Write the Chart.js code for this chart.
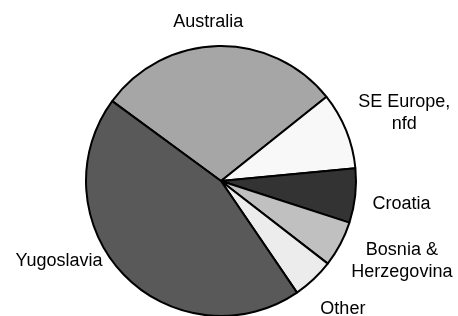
<!DOCTYPE html>
<html>
<head>
<meta charset="utf-8">
<script src="https://cdn.jsdelivr.net/npm/chart.js@4/dist/chart.umd.min.js"></script>
<style>
  html, body { margin: 0; padding: 0; background: #fff; overflow: hidden; }
</style>
</head>
<body>
<canvas id="pieChart" width="458" height="316"></canvas>
<script>
// chart data (share of people, %)
const categories = ['Australia', 'SE Europe, nfd', 'Croatia', 'Bosnia & Herzegovina', 'Other', 'Yugoslavia'];
const labelLines = [['Australia'], ['SE Europe,', 'nfd'], ['Croatia'], ['Bosnia &', 'Herzegovina'], ['Other'], ['Yugoslavia']];
const shares = [29.2, 9.2, 6.5, 5.5, 5.0, 44.6];
const sliceColors = ['#a6a6a6', '#f8f8f8', '#333333', '#c0c0c0', '#ececec', '#595959'];

// label placement (px shift from the default spot beside each slice)
const labelNudge = [[-9, 1], [2, -4], [3, 6], [4, 0], [4, 11], [-23, -31]];

// labels outside the pie, pushed out along the middle of each slice
const outsideLabels = {
    id: 'outsideLabels',
    afterDraw(chart) {
        const ctx = chart.ctx;
        const meta = chart.getDatasetMeta(0);
        const lineHeight = 22;
        const gap = 14.5;
        ctx.save();
        ctx.font = '18px "Liberation Sans", Arial, sans-serif';
        ctx.fillStyle = '#000000';
        ctx.textAlign = 'center';
        ctx.textBaseline = 'middle';
        meta.data.forEach((arc, i) => {
            const p = arc.getProps(['x', 'y', 'startAngle', 'endAngle', 'outerRadius'], true);
            const mid = (p.startAngle + p.endAngle) / 2;
            const lines = labelLines[i];
            let w = 0;
            lines.forEach(t => { w = Math.max(w, ctx.measureText(t).width); });
            const h = lines.length * lineHeight;
            const r = p.outerRadius + gap;
            const cx = p.x + Math.cos(mid) * (r + w / 2) + labelNudge[i][0];
            const cy = p.y + Math.sin(mid) * (r + h / 2) + labelNudge[i][1];
            lines.forEach((t, j) => {
                ctx.fillText(t, cx, cy - h / 2 + lineHeight * (j + 0.5));
            });
        });
        ctx.restore();
    }
};

const ctx = document.getElementById('pieChart').getContext('2d');
const pieChart = new Chart(ctx, {
    type: 'pie',
    data: {
        labels: categories,
        datasets: [{
            data: shares,
            backgroundColor: sliceColors,
            borderColor: '#000000',
            borderWidth: 2,
            radius: 135
        }]
    },
    options: {
        responsive: false,
        animation: false,
        rotation: -53.7,
        layout: {
            padding: { top: 46, left: 0, right: 16, bottom: 0 }
        },
        plugins: {
            legend: { display: false },
            tooltip: { enabled: false }
        }
    },
    plugins: [outsideLabels]
});
</script>
</body>
</html>
